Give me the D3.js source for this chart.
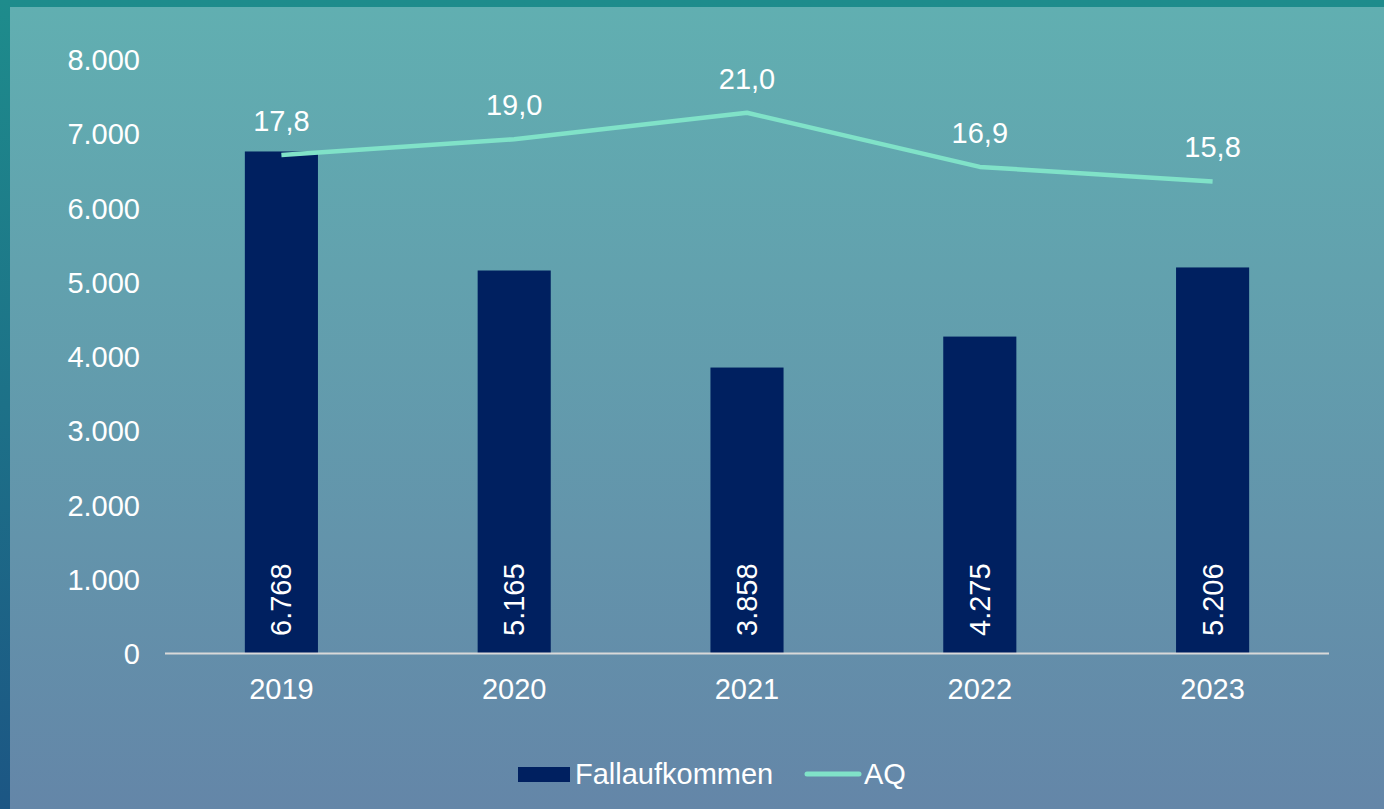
<!DOCTYPE html>
<html>
<head>
<meta charset="utf-8">
<script src="https://cdn.jsdelivr.net/npm/d3@7"></script>
<style>
  body { margin: 0; padding: 0; overflow: hidden; }
  text { font-family: "Liberation Sans", Arial, sans-serif; fill: #fff; }
</style>
</head>
<body>
<div id="chart"></div>
<script>
// data
var years = ["2019", "2020", "2021", "2022", "2023"];
var faelle = [6768, 5165, 3858, 4275, 5206];
var aq = [17.8, 19.0, 21.0, 16.9, 15.8];
var yTicks = [0, 1000, 2000, 3000, 4000, 5000, 6000, 7000, 8000];

var W = 1384, H = 809;
var fs = "29px";
var de = d3.formatLocale({decimal: ",", thousands: ".", grouping: [3], currency: ["", "€"]});
var fmtInt = de.format(",d");
var fmtDec = de.format(".1f");

var svg = d3.select("#chart").append("svg")
    .attr("width", W).attr("height", H);

var defs = svg.append("defs");
var g1 = defs.append("linearGradient").attr("id", "outer")
    .attr("x1", 0).attr("y1", 0).attr("x2", 0).attr("y2", 1);
g1.append("stop").attr("offset", "0%").attr("stop-color", "#1e8c8c");
g1.append("stop").attr("offset", "100%").attr("stop-color", "#1c5684");
var g2 = defs.append("linearGradient").attr("id", "inner")
    .attr("x1", 0).attr("y1", 0).attr("x2", 0).attr("y2", 1);
g2.append("stop").attr("offset", "0%").attr("stop-color", "#61afb1");
g2.append("stop").attr("offset", "100%").attr("stop-color", "#6486a8");

svg.append("rect").attr("width", W).attr("height", H).attr("fill", "url(#outer)");
svg.append("rect").attr("x", 10).attr("y", 7).attr("width", W - 10).attr("height", H - 7)
    .attr("fill", "url(#inner)");

// scales
var x = d3.scaleBand().domain(years).range([165, 1329]).padding(0);
var y = d3.scaleLinear().domain([0, 8000]).range([654, 60]);
var y2 = d3.scaleLinear().domain([-20, 25]).range([654, 60]); // hidden secondary axis
var barW = x.bandwidth() * 0.314;
function cx(d) { return x(d) + x.bandwidth() / 2; }

// y axis labels
svg.append("g").selectAll("text")
    .data(yTicks).enter().append("text")
    .attr("x", 140)
    .attr("y", function(d) { return y(d); })
    .attr("text-anchor", "end")
    .attr("dominant-baseline", "central")
    .style("font-size", fs)
    .text(function(d) { return fmtInt(d); });

// bars
svg.append("g").selectAll("rect")
    .data(faelle).enter().append("rect")
    .attr("x", function(d, i) { return cx(years[i]) - barW / 2; })
    .attr("y", function(d) { return y(d); })
    .attr("width", barW)
    .attr("height", function(d) { return y(0) - y(d); })
    .attr("fill", "#002060");

// bar value labels, rotated
svg.append("g").selectAll("text")
    .data(faelle).enter().append("text")
    .attr("transform", function(d, i) {
        return "translate(" + cx(years[i]) + "," + (y(0) - 18) + ") rotate(-90)";
    })
    .attr("dominant-baseline", "central")
    .style("font-size", fs)
    .text(function(d) { return fmtInt(d); });

// baseline
svg.append("line")
    .attr("x1", 165).attr("x2", 1329)
    .attr("y1", y(0) - 0.5).attr("y2", y(0) - 0.5)
    .attr("stroke", "#d9d9d9").attr("stroke-width", 2);

// x labels
svg.append("g").selectAll("text")
    .data(years).enter().append("text")
    .attr("x", function(d) { return cx(d); })
    .attr("y", 689)
    .attr("text-anchor", "middle")
    .attr("dominant-baseline", "central")
    .style("font-size", fs)
    .text(function(d) { return d; });

// AQ line
var line = d3.line()
    .x(function(d, i) { return cx(years[i]); })
    .y(function(d) { return y2(d); });
svg.append("path")
    .datum(aq)
    .attr("d", line)
    .attr("fill", "none")
    .attr("stroke", "#80e2c8")
    .attr("stroke-width", 4.5)
    .attr("stroke-linejoin", "round");

svg.append("g").selectAll("text")
    .data(aq).enter().append("text")
    .attr("x", function(d, i) { return cx(years[i]); })
    .attr("y", function(d) { return y2(d) - 34; })
    .attr("text-anchor", "middle")
    .attr("dominant-baseline", "central")
    .style("font-size", fs)
    .text(function(d) { return fmtDec(d); });

// legend
var leg = svg.append("g");
leg.append("rect").attr("x", 518).attr("y", 767).attr("width", 52).attr("height", 15)
    .attr("fill", "#002060");
leg.append("text").attr("x", 575).attr("y", 774).attr("dominant-baseline", "central")
    .style("font-size", fs).text("Fallaufkommen");
leg.append("line").attr("x1", 807).attr("x2", 859).attr("y1", 774).attr("y2", 774)
    .attr("stroke", "#80e2c8").attr("stroke-width", 5).attr("stroke-linecap", "round");
leg.append("text").attr("x", 864).attr("y", 774).attr("dominant-baseline", "central")
    .style("font-size", fs).text("AQ");
</script>
</body>
</html>
